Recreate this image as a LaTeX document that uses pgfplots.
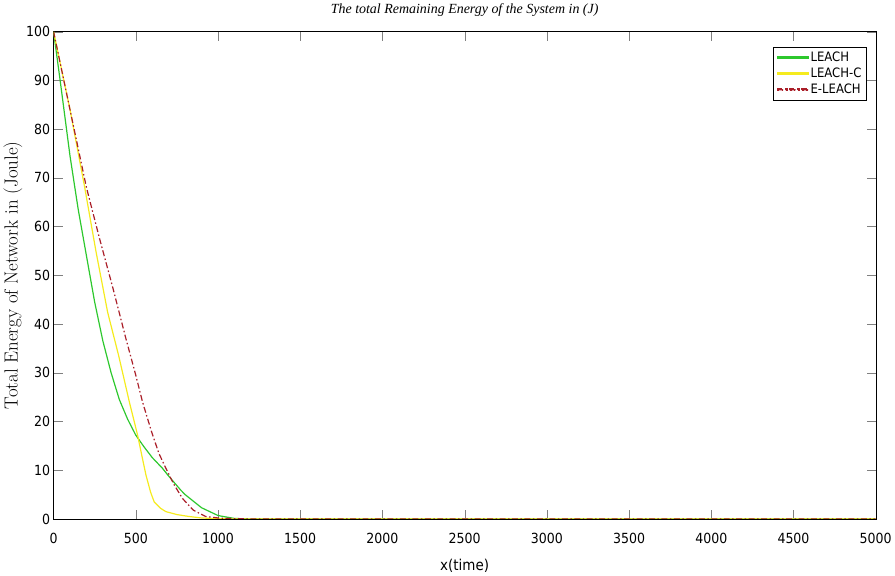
\documentclass[border=0pt]{standalone}
\usepackage{fontspec}
\usepackage{pgfplots}
\pgfplotsset{compat=1.18}
\newfontfamily\condsans{DejaVu Sans Condensed}
\newfontfamily\titlefont{Liberation Serif}
\definecolor{leachgreen}{RGB}{45,200,45}
\definecolor{leachyellow}{RGB}{245,235,30}
\definecolor{eleachred}{RGB}{170,30,40}
\begin{document}
\begin{tikzpicture}
\begin{axis}[
  width=825pt, height=489pt, scale only axis,
  xmin=0, xmax=5000, ymin=0, ymax=100,
  xtick={0,500,...,5000}, ytick={0,10,...,100},
  tick align=inside, major tick length=9pt,
  scaled x ticks=false,
  /pgf/number format/1000 sep=,
  /pgf/number format/assume math mode=true,
  tick label style={font=\condsans\fontsize{14}{16}\selectfont},
  xticklabel style={yshift=-11pt},
  title={The total Remaining Energy of the System in (J)},
  title style={font=\titlefont\itshape\fontsize{14}{16}\selectfont, yshift=6pt},
  xlabel={x(time)},
  xlabel style={font=\condsans\fontsize{15}{17}\selectfont, yshift=-8pt},
  ylabel={Total Energy of Network in (Joule)},
  ylabel style={font=\fontsize{19}{21}\selectfont, yshift=-3pt},
  legend style={at={(0.989,0.969)}, anchor=north east,
    font=\condsans\fontsize{13}{15}\selectfont, inner sep=3pt, row sep=1pt},
  legend cell align=left,
]
\addplot[leachgreen, line width=1.2pt,
  legend image code/.code={\fill[leachgreen] (0pt,-0.6pt) rectangle (31pt,0.6pt);}]
  coordinates {
  (0,100) (40,90) (100,74.5) (150,63.5) (200,54) (250,44.5) (300,36.5)
  (350,30) (400,24.5) (450,20.5) (500,17.2) (550,14.8) (600,12.6)
  (662,10.4) (700,8.8) (774,5.9) (800,5) (900,2.3) (1000,0.7)
  (1100,0.1) (1200,0) (5000,0)};
\addlegendentry{LEACH}
\addplot[leachyellow, line width=1.2pt,
  legend image code/.code={\fill[leachyellow] (0pt,-0.6pt) rectangle (31pt,0.6pt);}]
  coordinates {
  (0,100) (100,84) (188,68.3) (259,54.7) (329,42.4) (396,33.5)
  (461,24) (511,17.2) (540,12.5) (562,9) (590,5.5) (612,3.5) (650,2.2)
  (683,1.5) (750,0.9) (824,0.5) (900,0.2) (1000,0.05) (1100,0) (5000,0)};
\addlegendentry{LEACH-C}
\addplot[eleachred, line width=1.2pt, dash pattern=on 6pt off 2.5pt on 1.5pt off 2.5pt,
  legend image code/.code={
    \fill[eleachred] (0pt,-0.6pt) rectangle (6pt,0.6pt)
      (8.5pt,-0.6pt) rectangle (10pt,0.6pt)
      (12.5pt,-0.6pt) rectangle (18.5pt,0.6pt)
      (21pt,-0.6pt) rectangle (22.5pt,0.6pt)
      (25pt,-0.6pt) rectangle (31pt,0.6pt);}]
  coordinates {
  (0,100) (100,84) (200,68) (280,57.5) (360,47.5) (440,37) (500,29.5)
  (541,24) (595,18) (640,13.5) (683,10.4) (730,7.2) (784,4.2)
  (850,1.8) (925,0.5) (1000,0.2) (1100,0.05) (1200,0) (5000,0)};
\addlegendentry{E-LEACH}
\end{axis}
\end{tikzpicture}
\end{document}
